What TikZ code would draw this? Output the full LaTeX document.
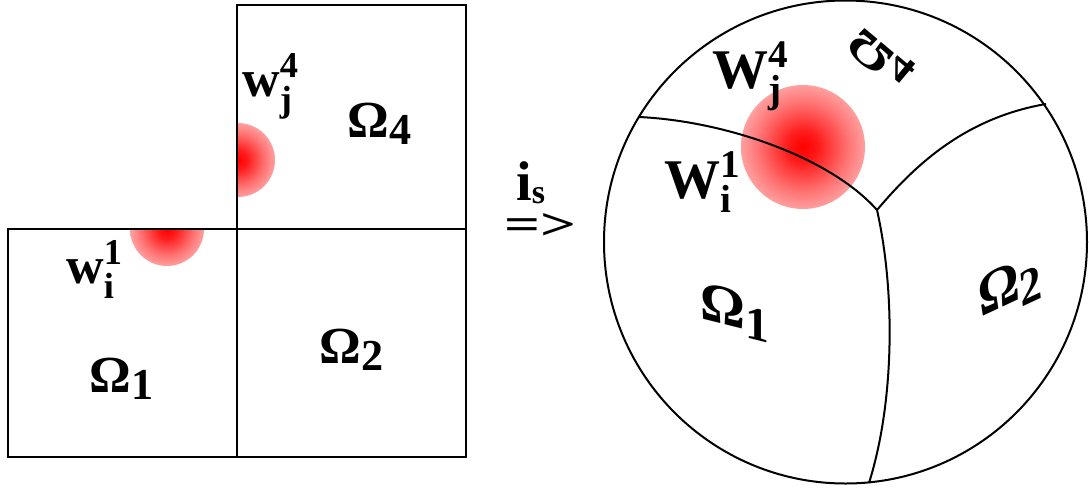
\documentclass[tikz,border=0pt]{standalone}
\usepackage{fontspec}
\setmainfont{Liberation Serif}
\usepackage{amsmath}
\pgfdeclareradialshading{redspot}{\pgfpoint{0bp}{0bp}}{color(0bp)=(red); color(6bp)=(red!90); color(18bp)=(red!55); color(32bp)=(red!20); color(50bp)=(red!1)}
\newcommand{\omsub}[2]{#1\raisebox{-0.14em}{\scalebox{0.85}{#2}}}
\newcommand{\wsub}[3]{$\text{#1}^{\text{#2}}_{\text{#3}}$}
\begin{document}
\begin{tikzpicture}[x=0.5pt,y=0.5pt,yscale=-1,xscale=1,
  lbl/.style={anchor=base west,inner sep=0pt,font=\bfseries\fontsize{26}{26}\selectfont},
  wlbl/.style={anchor=base west,inner sep=0pt,font=\bfseries\fontsize{26}{26}\selectfont},
  biglbl/.style={inner sep=0pt,font=\bfseries\fontsize{28}{28}\selectfont},
  edge/.style={line width=1pt}]
\useasboundingbox (0,0) rectangle (1089,488);

%Shape: Red spot [w_i^1]
\begin{scope}
\clip (100,229) rectangle (240,300);
\shade [shading=redspot] (167,229) circle [radius=37];
\end{scope}
%Shape: Red spot [w_j^4]
\begin{scope}
\clip (237,100) rectangle (300,220);
\shade [shading=redspot] (238,160) circle [radius=37];
\end{scope}
%Shape: Red spot [sphere]
\shade [shading=redspot] (803,147) circle [radius=62];

%Shape: Rectangle [Omega_1]
\draw [line width=1.3pt] (8,229) rectangle (237,457);
%Shape: Rectangle [Omega_2]
\draw [line width=1.3pt] (237,229) rectangle (466,457);
%Shape: Rectangle [Omega_4]
\draw [line width=1.3pt] (237,5) rectangle (466,229);

%Shape: Circle [sphere]
\draw [edge] (845.5,242) circle [radius=241.5];
\coordinate (jn) at (877,210);
\coordinate (cl) at (639,117);
\coordinate (cr) at (1046,104);
\coordinate (cb) at (869,483);
%Curve Lines
\draw [edge] (cl) .. controls (725,121) and (830,157) .. (jn);
\draw [edge] (jn) .. controls (915,165) and (965,118) .. (cr);
\draw [edge] (jn) .. controls (895,290) and (895,400) .. (cb);

% Text Node
\draw (66,283) node [wlbl] (wi) {\wsub{w}{1}{i}};
% Text Node
\draw (242,96) node [wlbl] (wj) {\wsub{w}{4}{j}};
% Text Node
\draw (347,137) node [lbl] (om4) {\omsub{Ω}{4}};
% Text Node
\draw (89,392) node [lbl] (om1) {\omsub{Ω}{1}};
% Text Node
\draw (319,363) node [lbl] (om2) {\omsub{Ω}{2}};
% Text Node
\draw (516,200) node [biglbl,anchor=base west] (is) {i\raisebox{-1.5pt}{\fontsize{17}{17}\selectfont s}};
% Text Node
\draw (504,239) node [biglbl,anchor=base west,font=\bfseries\fontsize{31}{31}\selectfont,xscale=1.02,yscale=0.72] (arr) {=>};
% Text Node
\draw (712,88) node [biglbl,anchor=base west] (Wj) {\wsub{W}{4}{j}};
% Text Node
\draw (664,198) node [biglbl,anchor=base west] (Wi) {\wsub{W}{1}{i}};
% Text Node
\draw (881,58) node [biglbl,rotate=-40,yscale=-0.8] (som4) {\omsub{Ω}{4}};
% Text Node
\draw (735,312) node [biglbl,yslant=-0.25] (som1) {\omsub{Ω}{1}};
% Text Node
\draw (1010,288) node [biglbl,rotate=25,xslant=0.35] (som2) {\omsub{Ω}{2}};
\end{tikzpicture}
\end{document}
